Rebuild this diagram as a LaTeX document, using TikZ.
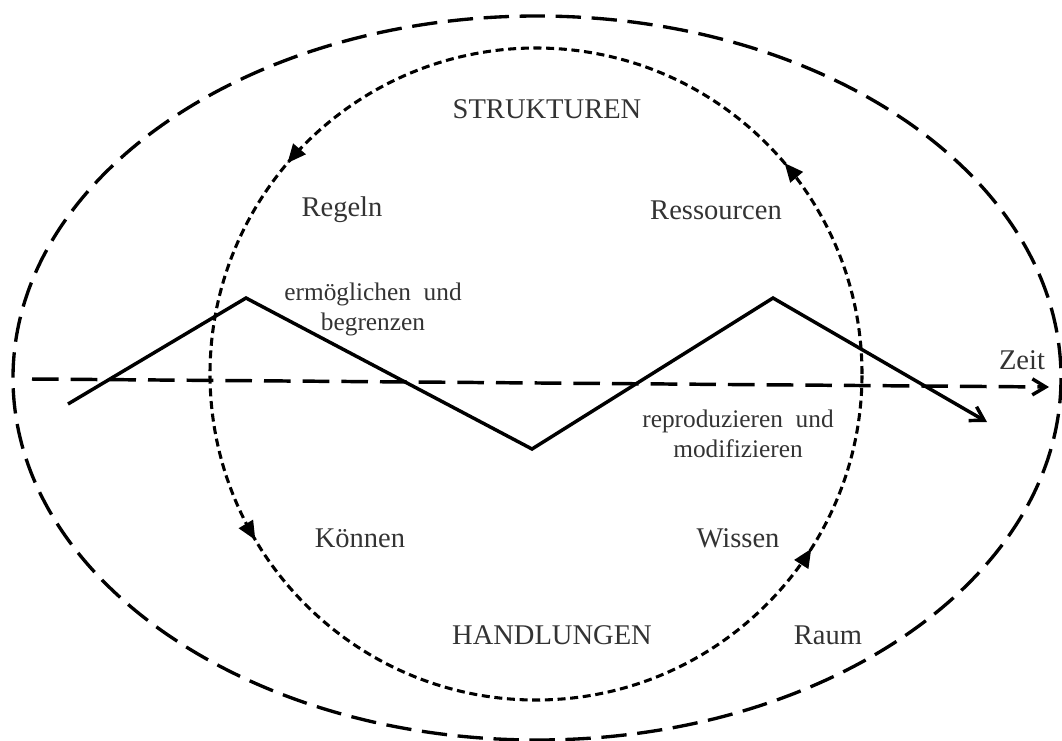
\documentclass[tikz,border=0pt]{standalone}
\usepackage{fontspec}
\setmainfont{Liberation Serif}
\usetikzlibrary{arrows.meta,decorations.markings}
\begin{document}
\begin{tikzpicture}[x=0.75pt,y=-0.75pt,
  outerring/.style={line width=2.5pt, dash pattern=on 19pt off 8pt},
  innerring/.style={line width=2.3pt, dash pattern=on 6pt off 3.5pt},
  timeaxis/.style={line width=2.6pt, dash pattern=on 20pt off 9pt, -{Straight Barb[length=10pt,width=12pt]}},
  zigzag/.style={line width=2.6pt, line join=miter, -{Straight Barb[length=10pt,width=12pt]}},
  bigtext/.style={font=\fontsize{21.4}{25}\selectfont, text=black!80, inner sep=0pt},
  smalltext/.style={font=\fontsize{19}{22.5}\selectfont, text=black!80, inner sep=0pt, align=center},
  cycletip/.style={decoration={markings,
      mark=at position 0.112 with {\arrow{Triangle[length=14pt,width=12pt]}},
      mark=at position 0.388 with {\arrow{Triangle[length=14pt,width=12pt]}},
      mark=at position 0.585 with {\arrow{Triangle[length=14pt,width=12pt]}},
      mark=at position 0.910 with {\arrow{Triangle[length=14pt,width=12pt]}}},
    postaction={decorate}}
]
\useasboundingbox (0,0) rectangle (1062,740);
% outer ellipse (Raum)
\draw[outerring] (537,378) ellipse[x radius=524, y radius=362];
% inner circle with cycle arrows
\draw[innerring, cycletip] (862,374) arc[start angle=0, end angle=-360, radius=326];
% time axis
\coordinate (t0) at (32,379);
\coordinate (t1) at (1049,387);
\draw[timeaxis] (t0) -- (t1);
% zigzag
\coordinate (z0) at (68,404);
\coordinate (z1) at (246,298);
\coordinate (z2) at (532,449);
\coordinate (z3) at (773,298);
\coordinate (z4) at (987,422);
\draw[zigzag] (z0) -- (z1) -- (z2) -- (z3) -- (z4);
% texts
\node[bigtext] (struk) at (547,109) {STRUKTUREN};
\node[bigtext] (regeln) at (342,210) {Regeln};
\node[bigtext] (ress) at (716,210) {Ressourcen};
\node[smalltext] (ermo) at (373,309) {ermöglichen\ \ und\\begrenzen};
\node[smalltext] (repro) at (738,434) {reproduzieren\ \ und\\modifizieren};
\node[bigtext] (koennen) at (360,538) {Können};
\node[bigtext] (wissen) at (738,538) {Wissen};
\node[bigtext] (handl) at (552,635) {HANDLUNGEN};
\node[bigtext] (raum) at (828,635) {Raum};
\node[bigtext] (zeit) at (1022,360) {Zeit};
\end{tikzpicture}
\end{document}
